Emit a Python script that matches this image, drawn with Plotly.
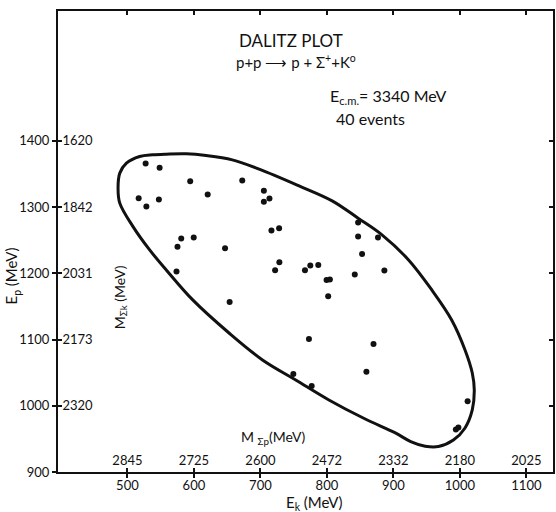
import plotly.graph_objects as go

# ---- data ----
# event points: E_k (MeV), E_p (MeV)
ek_events = [527.4, 548.4, 594.4, 620.7, 516.9, 528.5, 547.3, 580.9, 599.7, 575.3,
             672.7, 705.2, 705.2, 713.6, 716.6, 728.1, 646.8, 728.5, 722.1, 767.0,
             775.0, 787.0, 799.5, 804.5, 801.9, 653.7, 573.8, 846.9, 846.9, 876.8,
             852.9, 841.9, 886.4, 773.0, 870.1, 859.4, 777.1, 749.5, 1011.6, 993.9,
             997.7]
ep_events = [1365.7, 1359.2, 1339.1, 1318.9, 1313.4, 1300.8, 1311.3, 1252.4, 1253.9, 1239.9,
             1340.0, 1324.5, 1307.9, 1312.8, 1264.5, 1268.1, 1237.9, 1216.8, 1204.7, 1204.7,
             1211.6, 1212.7, 1190.0, 1190.5, 1165.4, 1156.8, 1202.6, 1276.6, 1255.4, 1253.9,
             1229.3, 1198.0, 1204.1, 1100.9, 1093.4, 1051.4, 1029.9, 1048.0, 1006.8, 964.2,
             967.2]

# kinematic boundary
ek_boundary = [758.1, 807.9, 846.9, 882.8, 922.8, 957.7, 987.6, 1007.7, 1018.6, 1021.6,
               1018.6, 1007.7, 990.2, 967.7, 947.8, 926.0, 902.9, 855.4, 803.0, 753.1,
               703.1, 653.2, 598.2, 558.4, 533.4, 508.4, 488.5, 485.9, 488.5, 498.5,
               518.4, 537.9, 558.4, 588.4, 618.3, 657.7, 698.1, 758.1]
ep_boundary = [1332.0, 1309.4, 1283.2, 1258.0, 1220.2, 1174.9, 1129.6, 1084.3, 1049.5, 1023.9,
               993.7, 966.5, 948.3, 938.5, 939.0, 946.0, 959.0, 981.1, 1008.8, 1039.0,
               1069.2, 1109.5, 1159.8, 1205.1, 1235.3, 1270.5, 1305.9, 1329.0, 1351.2, 1366.3,
               1376.3, 1378.9, 1379.9, 1380.4, 1377.8, 1371.3, 1357.3, 1332.0]

ek_ticks = [500, 600, 700, 800, 900, 1000, 1100]
msp_labels = ["2845", "2725", "2600", "2472", "2332", "2180", "2025"]
ep_ticks = [900, 1000, 1100, 1200, 1300, 1400]
ep_labels = ["900", "1000", "1100", "1200", "1300", "1400"]
msk_ticks = [1000, 1100, 1200, 1300, 1400]
msk_labels = ["2320", "2173", "2031", "1842", "1620"]

XR = [395.6, 1140]
YR = [900, 1596]
FONT = "Lato"
INK = "#111111"

fig = go.Figure()
fig.add_trace(go.Scatter(x=ek_boundary, y=ep_boundary, mode="lines",
                         line=dict(color=INK, width=3, shape="spline", smoothing=1.0),
                         hoverinfo="skip", showlegend=False))
fig.add_trace(go.Scatter(x=ek_events, y=ep_events, mode="markers",
                         marker=dict(color=INK, size=6),
                         showlegend=False))
# invisible trace on secondary axes so they are drawn
fig.add_trace(go.Scatter(x=[XR[0]], y=[YR[0]], xaxis="x2", yaxis="y2", mode="markers",
                         marker=dict(opacity=0), hoverinfo="skip", showlegend=False))

tickfont = dict(family=FONT, size=13, color=INK)
fig.update_layout(
    width=556, height=512,
    margin=dict(l=58, r=1, t=11, b=40),
    paper_bgcolor="white", plot_bgcolor="white",
    xaxis=dict(range=XR, tickvals=ek_ticks, ticktext=[str(v) for v in ek_ticks],
               ticks="outside", ticklen=4, tickwidth=1.5, tickcolor=INK,
               ticklabelstandoff=-4,
               showline=True, linecolor=INK, linewidth=2, mirror=True,
               showgrid=False, zeroline=False, tickfont=tickfont),
    yaxis=dict(range=YR, tickvals=ep_ticks, ticktext=ep_labels,
               ticks="outside", ticklen=4, tickwidth=1.5, tickcolor=INK,
               showline=True, linecolor=INK, linewidth=2, mirror=True,
               showgrid=False, zeroline=False, tickfont=tickfont),
    xaxis2=dict(range=XR, overlaying="x", side="bottom", anchor="y2",
                tickvals=ek_ticks, ticktext=msp_labels,
                ticklabelposition="inside", ticks="inside", ticklen=4, tickwidth=1.5,
                tickcolor=INK, showline=False, mirror="ticks",
                showgrid=False, zeroline=False, tickfont=tickfont),
    yaxis2=dict(range=YR, overlaying="y", side="left", anchor="x2",
                tickvals=msk_ticks, ticktext=msk_labels,
                ticklabelposition="inside", ticks="inside", ticklen=4, tickwidth=1.5,
                tickcolor=INK, showline=False, mirror="ticks",
                showgrid=False, zeroline=False, tickfont=tickfont),
)

def ann(text, x, y, size=13, xanchor="left", angle=0):
    fig.add_annotation(text=text, x=x, y=y, xref="paper", yref="paper",
                       xanchor=xanchor, yanchor="middle", showarrow=False,
                       textangle=angle, font=dict(family=FONT, size=size, color=INK))

ann("DALITZ PLOT", 0.362, 0.936, size=17)
ann("p+p ⟶ p + Σ<sup>+</sup>+K<sup>o</sup>", 0.356, 0.890, size=15)
ann("E<sub>c.m.</sub>= 3340 MeV", 0.545, 0.814, size=16)
ann("40 events", 0.557, 0.766, size=16)
ann("M <sub>Σp</sub>(MeV)", 0.366, 0.074, size=14)
ann("E<sub>k</sub> (MeV)", 0.519, -0.068, size=15, xanchor="center")
ann("E<sub>p</sub> (MeV)", -0.092, 0.425, size=15, xanchor="center", angle=-90)
ann("M<sub>Σk</sub> (MeV)", 0.126, 0.38, size=14, xanchor="center", angle=-90)

fig.write_html("out.html")
